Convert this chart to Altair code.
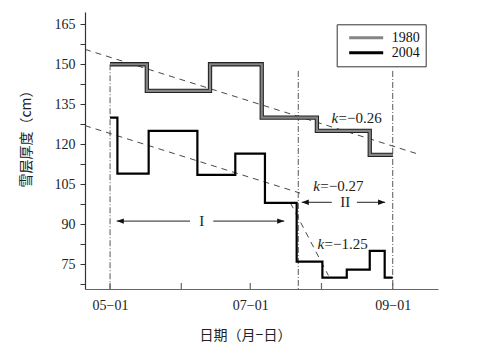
import altair as alt
import pandas as pd

# ---------------- data ----------------
series_names = ["1980", "2004"]
days_1980 = [0, 16, 43.5, 66, 90, 113, 123]
depth_1980 = [150, 140, 150, 130, 125, 116, 116]
days_2004 = [0, 3.2, 16.8, 38, 54.5, 67.4, 81.2, 92.4, 103, 113, 119.5, 123]
depth_2004 = [130, 109, 125, 108.5, 116.5, 98, 76, 70, 73, 80, 70, 70]

trend_x0 = [-10.9, -10.9, 78.5]
trend_y0 = [155.6, 127.0, 98.0]
trend_x1 = [134.9, 82.7, 95.0]
trend_y1 = [116.1, 101.7, 70.8]

k_x = [96.4, 88.4, 90.3]
k_y = [130.0, 104.5, 82.8]
k_text = ["=\u22120.26", "=\u22120.27", "=\u22121.25"]

period_days = [0, 81.9, 123]
period_top = [150, 147.5, 147.5]

arrow_y = [91.2, 98.25]
arrow_left = [2.9, 83.4]
arrow_gap_l = [34.8, 96.5]
arrow_gap_r = [44.9, 107.4]
arrow_right = [75.8, 119.7]
arrow_label_x = [39.9, 102.3]
arrow_labels = ["I", "II"]

x_domain = [-10.9, 142.7]
y_domain = [65.74, 169.6]
x_tick_days = [0, 31, 61, 92, 123]
x_label_days = [0, 61, 123]
x_labels = ["05\u221201", "07\u221201", "09\u221201"]
y_tick_values = [67.5, 75, 82.5, 90, 97.5, 105, 112.5, 120, 127.5, 135, 142.5, 150, 157.5, 165]
y_label_values = [75, 90, 105, 120, 135, 150, 165]

SERIF = "Liberation Serif"
CJK = "Noto Sans CJK SC"

# ---------------- tables ----------------
steps = pd.DataFrame(
    [{"series": "1980", "day": d, "depth": v} for d, v in zip(days_1980, depth_1980)]
    + [{"series": "2004", "day": d, "depth": v} for d, v in zip(days_2004, depth_2004)]
)
trends = pd.DataFrame({"x0": trend_x0, "y0": trend_y0, "x1": trend_x1, "y1": trend_y1})
klab = pd.DataFrame({"x": k_x, "y": k_y, "t": k_text})
periods = pd.DataFrame({"x": period_days, "top": period_top, "bottom": [y_domain[0]] * len(period_days)})
arrows = pd.DataFrame({
    "y": arrow_y, "left": arrow_left, "gl": arrow_gap_l, "gr": arrow_gap_r,
    "right": arrow_right, "lx": arrow_label_x, "lab": arrow_labels,
})
xticks = pd.DataFrame({"x": x_tick_days})

xexpr = "''"
for d, l in reversed(list(zip(x_label_days, x_labels))):
    xexpr = f"datum.value == {d} ? '{l}' : ({xexpr})"
yexpr = "indexof([" + ",".join(str(v) for v in y_label_values) + "], datum.value) >= 0 ? datum.label : ''"

xscale = alt.Scale(domain=x_domain, nice=False, zero=False)
yscale = alt.Scale(domain=y_domain, nice=False, zero=False)
xaxis = alt.Axis(
    values=x_label_days, labelExpr=xexpr, ticks=False, grid=False,
    domainColor="#666", domainWidth=1.2, labelFont=SERIF, labelFontSize=14,
    labelColor="#222", labelPadding=9, labelBaseline="top",
    title="日期（月\u2212日）", titleFont=CJK, titleFontSize=14, titleFontWeight="normal",
    titleColor="#222", titleX=160, titleY=46, titleBaseline="middle", titleAlign="center",
)
yaxis = alt.Axis(
    values=y_tick_values, labelExpr=yexpr, grid=False, tickSize=5, tickColor="#333",
    domainColor="#333", domainWidth=1.2, labelFont=SERIF, labelFontSize=14,
    labelColor="#222", labelPadding=5,
    title="雪层厚度（cm）", titleFont=CJK, titleFontSize=14, titleFontWeight="normal",
    titleColor="#222", titleX=-59, titleY=123, titleAngle=270, titleAlign="center",
    titleBaseline="middle",
)

def X(field):
    return alt.X(field, type="quantitative", scale=xscale, axis=xaxis)

def Y(field):
    return alt.Y(field, type="quantitative", scale=yscale, axis=yaxis)

vlines = alt.Chart(periods).mark_rule(
    color="#444", strokeWidth=0.9, strokeDash=[6, 2, 1, 2]
).encode(x=X("x"), y=Y("top"), y2="bottom")

trend_rules = alt.Chart(trends).mark_rule(
    color="#333", strokeWidth=0.9, strokeDash=[6, 5]
).encode(x=X("x0"), y=Y("y0"), x2="x1", y2="y1")

outline = alt.Chart(steps).transform_filter(alt.datum.series == "1980").mark_line(
    interpolate="step-after", color="#222", strokeWidth=4.3, strokeJoin="miter"
).encode(x=X("day"), y=Y("depth"))

main = alt.Chart(steps).mark_line(
    interpolate="step-after", strokeWidth=2.2, strokeJoin="miter"
).encode(
    x=X("day"), y=Y("depth"),
    color=alt.Color(
        "series:N",
        scale=alt.Scale(domain=series_names, range=["#858585", "#000000"]),
        legend=alt.Legend(
            orient="none", legendX=251.7, legendY=12.3, title=None,
            symbolType="stroke", symbolSize=1156, symbolStrokeWidth=3,
            strokeColor="#333", fillColor="white", padding=6, rowPadding=0,
            clipHeight=15, symbolOffset=5, labelOffset=7,
            labelFont=SERIF, labelFontSize=14, labelColor="#111",
            labelExpr="datum.label + '   '",
        ),
    ),
)

arrow_l = alt.Chart(arrows).mark_rule(color="#222", strokeWidth=1).encode(
    x=X("left"), x2="gl", y=Y("y"))
arrow_r = alt.Chart(arrows).mark_rule(color="#222", strokeWidth=1).encode(
    x=X("gr"), x2="right", y=Y("y"))
head_l = alt.Chart(arrows).mark_point(
    shape="M0,0L1,-0.38L1,0.38Z", filled=True, size=200, color="#111", opacity=1
).encode(x=X("left"), y=Y("y"))
head_r = alt.Chart(arrows).mark_point(
    shape="M0,0L-1,-0.38L-1,0.38Z", filled=True, size=200, color="#111", opacity=1
).encode(x=X("right"), y=Y("y"))
arrow_txt = alt.Chart(arrows).mark_text(
    font=SERIF, fontSize=15, color="#222", baseline="middle"
).encode(x=X("lx"), y=Y("y"), text="lab:N")

k_italic = alt.Chart(klab).mark_text(
    font=SERIF, fontSize=15, fontStyle="italic", color="#222", align="left", baseline="middle"
).encode(x=X("x"), y=Y("y"), text=alt.value("k"))
k_val = alt.Chart(klab).mark_text(
    font=SERIF, fontSize=15, color="#222", align="left", baseline="middle", dx=7
).encode(x=X("x"), y=Y("y"), text="t:N")

ticks = alt.Chart(xticks).mark_rule(color="#666", strokeWidth=1.2).encode(
    x=X("x"), y=alt.value(277), y2=alt.value(271))

chart = alt.layer(
    vlines, trend_rules, ticks, outline, main, arrow_l, arrow_r, head_l, head_r,
    arrow_txt, k_italic, k_val,
).properties(
    width=353, height=277,
    autosize=alt.AutoSizeParams(type="none"),
    padding={"left": 85, "top": 12, "right": 56, "bottom": 66},
    background="white",
).configure_view(stroke=None)

chart.save("out.html", embed_options={"renderer": "svg", "actions": False})
